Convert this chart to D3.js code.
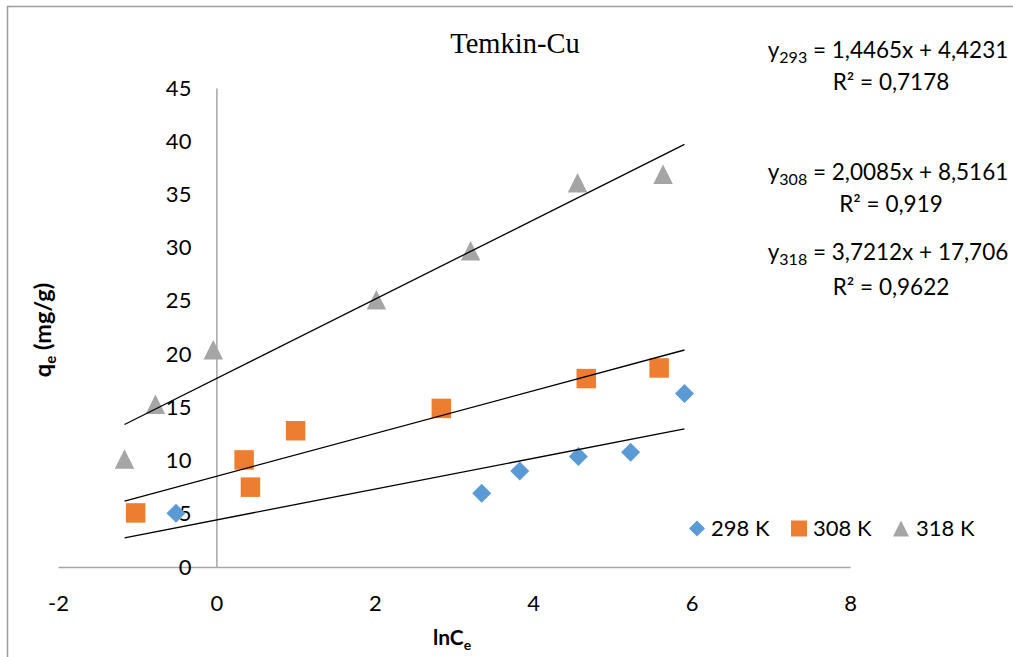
<!DOCTYPE html>
<html>
<head>
<meta charset="utf-8">
<script src="https://cdn.jsdelivr.net/npm/d3@7"></script>
<style>
  html, body { margin: 0; padding: 0; background: #fff; }
  svg { display: block; }
  text { fill: #000; }
</style>
</head>
<body>
<script>
// Temkin isotherm, Cu adsorption: qe vs ln Ce at three temperatures
const seriesNames = ["298 K", "308 K", "318 K"];
const seriesColors = ["#5B9BD5", "#ED7D31", "#A5A5A5"];

const lnCe298 = [-0.51, 3.35, 3.83, 4.57, 5.23, 5.91];
const qe298   = [5.05, 6.93, 9.02, 10.37, 10.78, 16.3];

const lnCe308 = [-1.02, 0.35, 0.43, 1.00, 2.84, 4.67, 5.59];
const qe308   = [5.08, 10.06, 7.5, 12.8, 14.9, 17.7, 18.7];

const lnCe318 = [-1.16, -0.77, -0.04, 2.02, 3.21, 4.56, 5.64];
const qe318   = [10.15, 15.3, 20.4, 25.1, 29.7, 36.1, 36.9];

// Linear fits (slope, intercept, R²) and their labels
const fitSlopes     = [1.4465, 2.0085, 3.7212];
const fitIntercepts = [4.4231, 8.5161, 17.706];
const fitSubscripts = ["293", "308", "318"];
const fitEquations  = [" = 1,4465x + 4,4231", " = 2,0085x + 8,5161", " = 3,7212x + 17,706"];
const fitR2Labels   = ["R² = 0,7178", "R² = 0,919", "R² = 0,9622"];

const xTicks = [-2, 0, 2, 4, 6, 8];
const yTicks = [0, 5, 10, 15, 20, 25, 30, 35, 40, 45];

const sans = "Lato, 'Open Sans', sans-serif";
const serif = "'Liberation Serif', 'Times New Roman', serif";

const W = 1013, H = 657;
const svg = d3.select("body").append("svg").attr("width", W).attr("height", H)
  .style("font-family", sans);

// chart frame
svg.append("rect")
  .attr("x", 7.5).attr("y", 6.5).attr("width", W + 20).attr("height", H + 20)
  .attr("fill", "none").attr("stroke", "#9d9d9d").attr("stroke-width", 1.5);

const x = d3.scaleLinear().domain([-2, 8]).range([58, 850]);
const y = d3.scaleLinear().domain([0, 45]).range([567, 88]);

const axisColor = "#A6A6A6";

// x axis along y = 0
const gx = svg.append("g").attr("transform", `translate(0,${y(0)})`)
  .call(d3.axisBottom(x).tickValues(xTicks).tickSize(0).tickSizeOuter(0).tickPadding(28)
    .tickFormat(d => String(d)));
gx.select(".domain").attr("stroke", axisColor).attr("stroke-width", 1.5);
gx.selectAll("text").style("font-size", "22px").style("font-family", sans).attr("fill", "#000");

// y axis along x = 0
const gy = svg.append("g").attr("transform", `translate(${x(0)},0)`)
  .call(d3.axisLeft(y).tickValues(yTicks).tickSize(0).tickSizeOuter(0).tickPadding(25)
    .tickFormat(d => String(d)));
gy.select(".domain").attr("stroke", axisColor).attr("stroke-width", 1.5);
gy.selectAll("text").style("font-size", "22px").style("font-family", sans).attr("fill", "#000");

// marker shapes centred on their bounding box
function markerPath(kind, s) {
  const h = s / 2;
  if (kind === 0) return `M0,${-h}L${h},0L0,${h}L${-h},0Z`;
  if (kind === 1) return `M${-h},${-h}H${h}V${h}H${-h}Z`;
  return `M0,${-h}L${h},${h}L${-h},${h}Z`;
}

const series = [
  { xs: lnCe298, ys: qe298 },
  { xs: lnCe308, ys: qe308 },
  { xs: lnCe318, ys: qe318 }
];
const markerSizes = [19, 19.5, 19.5];

series.forEach((s, i) => {
  const pts = s.xs.map((v, j) => [v, s.ys[j]]);
  svg.append("g").selectAll("path").data(pts).join("path")
    .attr("transform", d => `translate(${x(d[0])},${y(d[1])})`)
    .attr("d", markerPath(i, markerSizes[i]))
    .attr("fill", seriesColors[i]);
});

// trend lines spanning the full range of measured ln Ce
const allX = lnCe298.concat(lnCe308, lnCe318);
const [x0, x1] = d3.extent(allX);
const line = d3.line().x(d => x(d[0])).y(d => y(d[1]));
fitSlopes.forEach((m, i) => {
  const b = fitIntercepts[i];
  svg.append("path")
    .attr("d", line([[x0, m * x0 + b], [x1, m * x1 + b]]))
    .attr("fill", "none").attr("stroke", "#000").attr("stroke-width", 1.3);
});

// title
svg.append("text")
  .attr("x", 515).attr("y", 53).attr("text-anchor", "middle")
  .style("font-family", serif)
  .style("font-size", "28.5px")
  .text("Temkin-Cu");

// fit equations
const eqBaselines = [58, 180, 260];
const r2Baselines = [90, 212, 295];
fitEquations.forEach((eq, i) => {
  const t = svg.append("text")
    .attr("x", 888).attr("y", eqBaselines[i]).attr("text-anchor", "middle")
    .style("font-size", "22.5px");
  t.append("tspan").text("y");
  t.append("tspan").style("font-size", "16px").attr("dy", 5).text(fitSubscripts[i]);
  t.append("tspan").attr("dy", -5).text(eq);
  svg.append("text")
    .attr("x", 891).attr("y", r2Baselines[i]).attr("text-anchor", "middle")
    .style("font-size", "22.5px")
    .text(fitR2Labels[i]);
});

// legend
const legendX = [697, 799, 901];
const legendTextX = [711, 813, 916];
seriesNames.forEach((name, i) => {
  svg.append("path")
    .attr("transform", `translate(${legendX[i]},${528.5})`)
    .attr("d", markerPath(i, 16))
    .attr("fill", seriesColors[i]);
  svg.append("text")
    .attr("x", legendTextX[i]).attr("y", 536).style("font-size", "22px")
    .text(name);
});

// axis titles
const xt = svg.append("text")
  .attr("x", 433).attr("y", 645).style("font-size", "21px").style("font-weight", "bold");
xt.append("tspan").text("lnC");
xt.append("tspan").style("font-size", "14px").attr("dy", 5).text("e");

const yt = svg.append("text")
  .attr("transform", "translate(51,330) rotate(-90)")
  .attr("text-anchor", "middle").style("font-size", "23.5px").style("font-weight", "bold");
yt.append("tspan").text("q");
yt.append("tspan").style("font-size", "15px").attr("dy", 5).text("e");
yt.append("tspan").attr("dy", -5).text(" (mg/g)");
</script>
</body>
</html>
